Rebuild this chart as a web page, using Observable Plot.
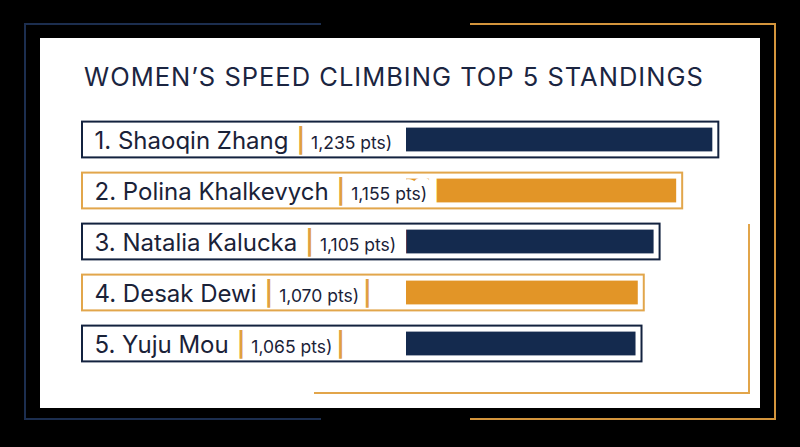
<!DOCTYPE html>
<html>
<head>
<meta charset="utf-8">
<script src="https://cdn.jsdelivr.net/npm/d3@7"></script>
<script src="https://cdn.jsdelivr.net/npm/@observablehq/plot@0.6"></script>
<style>
  html, body { margin: 0; padding: 0; background: #000; }
  #stage { position: relative; width: 800px; height: 447px; overflow: hidden; background: #000; font-family: Inter, "Open Sans", sans-serif; }
  .abs { position: absolute; box-sizing: border-box; }
  #navyFrame { left: 24px; top: 23px; width: 297px; height: 397px; border: 2px solid #1c2e4f; border-right: none; }
  #orangeFrame { left: 470px; top: 23px; width: 306px; height: 397px; border: 2px solid #d4953c; border-left: none; }
  #panel { left: 40px; top: 38px; width: 720px; height: 370px; background: #fff; }
  #innerOrange { left: 314px; top: 224px; width: 436px; height: 170px; border-right: 2px solid #e2a54a; border-bottom: 2px solid #e2a54a; }
  #title { left: 84px; top: 64px; font-size: 25.5px; line-height: 26px; color: #1b2541; font-weight: 400; letter-spacing: 1.0px; white-space: nowrap; }
  #chart { left: 0; top: 0; }
</style>
</head>
<body>
<div id="stage">
  <div id="navyFrame" class="abs"></div>
  <div id="orangeFrame" class="abs"></div>
  <div id="panel" class="abs"></div>
  <div id="innerOrange" class="abs"></div>
  <div id="title" class="abs">WOMEN’S SPEED CLIMBING TOP 5 STANDINGS</div>
  <div id="chart" class="abs"></div>
</div>
<script>
// ---- data ----
const ranks = [1, 2, 3, 4, 5];
const names = ["Shaoqin Zhang", "Polina Khalkevych", "Natalia Kalucka", "Desak Dewi", "Yuju Mou"];
const points = [1235, 1155, 1105, 1070, 1065];
const trailing = ["", "", "", "|", "|"];
const axisStart = 557;
const axisEnd = 1300;

// ---- colours ----
const navy = "#142a4e", orange = "#e29527";
const navyLine = "#13223f", orangeLine = "#e2a64b";
const textNavy = "#1a2238", pipeOrange = "#e0a040";

const fmt = d3.format(",");
const rows = ranks.map((r, i) => ({
  rank: r,
  label: `${r}. ${names[i]}`,
  pts: points[i],
  ptsLabel: `${fmt(points[i])} pts)`,
  tail: trailing[i]
}));

const chart = Plot.plot({
  width: 800,
  height: 447,
  marginLeft: 406,
  marginRight: 800 - (406 + (axisEnd - axisStart) * 0.4518),
  marginTop: 113.4,
  marginBottom: 77.4,
  x: { domain: [axisStart, axisEnd], axis: null },
  y: { domain: rows.map(d => d.label), axis: null, padding: 0 },
  style: { background: "transparent", overflow: "visible" },
  marks: [
    Plot.barX(rows, {
      x1: axisStart, x2: "pts", y: "label",
      fill: d => d.rank % 2 ? navy : orange,
      insetTop: 13.6, insetBottom: 13.6
    }),
    Plot.text(rows, {
      x: axisStart, y: "label", text: "label", textAnchor: "start",
      dx: -312, dy: 1, fontSize: 24, fill: textNavy
    }),
    Plot.barX(rows, {
      x1: axisStart, x2: "pts", y: "label",
      fill: "none",
      stroke: d => d.rank % 2 ? navyLine : orangeLine,
      strokeWidth: 2,
      insetLeft: -324, insetRight: -6, insetTop: 7.6, insetBottom: 7.6
    })
  ]
});

const NS = "http://www.w3.org/2000/svg";
function span(parent, txt, attrs) {
  const t = document.createElementNS(NS, "tspan");
  t.textContent = txt;
  for (const k in attrs) t.setAttribute(k, attrs[k]);
  parent.appendChild(t);
  return t;
}
const halo = (w, join) => ({ stroke: "white", "stroke-width": w, "stroke-linejoin": join, "paint-order": "stroke" });
function build(textEl, d) {
  textEl.textContent = "";
  textEl.setAttribute("font-family", "Inter, 'Open Sans', sans-serif");
  span(textEl, d.label, { "font-weight": 400 });
  span(textEl, "|", { dx: 8, fill: pipeOrange, "font-weight": 600, "font-size": 24 });
  span(textEl, d.ptsLabel, Object.assign({ dx: 6, "font-size": 17.5, "font-weight": 400 }, halo(17, "round")));
  if (d.tail) {
    span(textEl, d.tail, { dx: 4, fill: pipeOrange, "font-weight": 600, "font-size": 24 });
  } else {
    // white block masking the start of a bar that sits behind a long label
    span(textEl, "|", Object.assign({ dx: 1, fill: "white", "font-size": 26, "font-weight": 700 }, halo(4, "miter")));
  }
}
chart.querySelectorAll("text").forEach((t, i) => build(t, rows[i]));

document.getElementById("chart").appendChild(chart);
</script>
</body>
</html>
